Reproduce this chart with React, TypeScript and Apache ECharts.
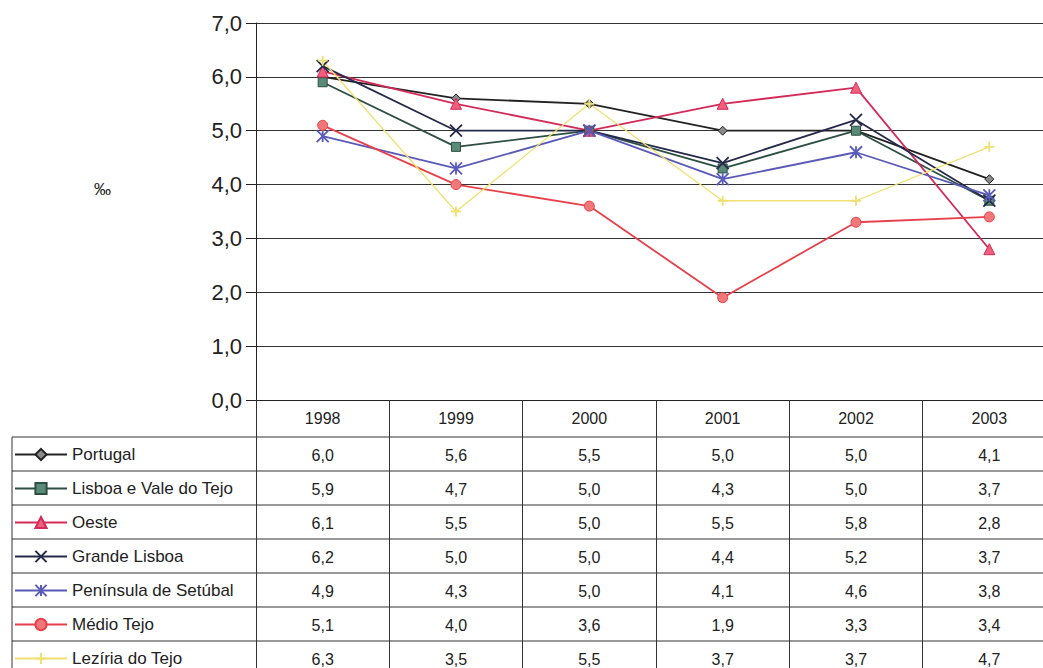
import React, { useEffect, useRef } from "react";
import * as echarts from "echarts";

const years = ["1998", "1999", "2000", "2001", "2002", "2003"];
const seriesNames = [
  "Portugal",
  "Lisboa e Vale do Tejo",
  "Oeste",
  "Grande Lisboa",
  "Península de Setúbal",
  "Médio Tejo",
  "Lezíria do Tejo",
];
const portugal = [6.0, 5.6, 5.5, 5.0, 5.0, 4.1];
const lisboaValeTejo = [5.9, 4.7, 5.0, 4.3, 5.0, 3.7];
const oeste = [6.1, 5.5, 5.0, 5.5, 5.8, 2.8];
const grandeLisboa = [6.2, 5.0, 5.0, 4.4, 5.2, 3.7];
const peninsulaSetubal = [4.9, 4.3, 5.0, 4.1, 4.6, 3.8];
const medioTejo = [5.1, 4.0, 3.6, 1.9, 3.3, 3.4];
const leziriaTejo = [6.3, 3.5, 5.5, 3.7, 3.7, 4.7];
const allValues = [portugal, lisboaValeTejo, oeste, grandeLisboa, peninsulaSetubal, medioTejo, leziriaTejo];

const lineColors = ["#222222", "#2d4f44", "#d42a5a", "#262a4a", "#5a5ab8", "#e8404a", "#f0e070"];
const markerFill = ["#8a8a8a", "#5a8a78", "#f0607a", "#262a4a", "#5a5ab8", "#f07878", "#f0e070"];
const symbols = [
  "diamond",
  "rect",
  "triangle",
  "path://M0,0L10,10M10,0L0,10",
  "path://M0,0L10,10M10,0L0,10M5,0L5,10",
  "circle",
  "path://M5,0L5,10M0,5L10,5",
];
const symbolSizes = [9, 9, 11, 12, 12, 10, 10];

const FONT = "Liberation Sans, Arial, sans-serif";
const fmt = (v: number) => v.toFixed(1).replace(".", ",");

export default function App() {
  const ref = useRef<HTMLDivElement>(null);
  useEffect(() => {
    const chart = echarts.init(ref.current!, null, { renderer: "svg" });
    const gridLeft = 256;
    const gridTop = 23;
    const gridBottomY = 400;
    const headerH = 37;
    const rowH = 34;
    const legendTop = 441;

    const tableAxes = allValues.map((vals, i) => ({
      type: "category",
      gridIndex: 0,
      position: "bottom",
      offset: headerH + rowH * i,
      data: vals.map(fmt),
      axisLine: { show: false },
      axisTick: { show: false },
      axisLabel: { interval: 0, margin: 10, fontSize: 16, color: "#222", fontFamily: FONT },
    }));

    const hLines: any[] = [];
    for (let i = 0; i <= allValues.length; i++) {
      const y = gridBottomY + headerH + rowH * i;
      hLines.push({
        type: "line",
        shape: { x1: 12, y1: y, x2: 1043, y2: y },
        style: { stroke: "#333", lineWidth: 1 },
      });
    }
    hLines.push({
      type: "line",
      shape: { x1: 12, y1: gridBottomY + headerH, x2: 12, y2: 668 },
      style: { stroke: "#333", lineWidth: 1 },
    });

    const legendBase = {
      orient: "vertical",
      left: 9,
      itemGap: 17,
      itemHeight: 14,
      itemWidth: 52,
      textStyle: { fontSize: 17, color: "#222", fontFamily: FONT },
    };

    chart.setOption({
      animation: false,
      backgroundColor: "#fff",
      textStyle: { fontFamily: FONT },
      grid: {
        left: gridLeft,
        top: gridTop,
        width: 800,
        height: gridBottomY - gridTop,
        outerBoundsMode: "none",
        containLabel: false,
      },
      legend: [
        { ...legendBase, data: seriesNames.slice(0, 6), top: legendTop },
        { ...legendBase, data: seriesNames.slice(6), top: legendTop + rowH * 6 },
      ],
      xAxis: [
        {
          type: "category",
          data: years,
          boundaryGap: true,
          axisLine: { show: true, lineStyle: { color: "#222", width: 1 } },
          axisTick: { show: true, interval: 0, length: 275, lineStyle: { color: "#333", width: 1 } },
          axisLabel: { interval: 0, margin: 10, fontSize: 16, color: "#222", fontFamily: FONT },
        },
        ...tableAxes,
      ],
      yAxis: {
        type: "value",
        min: 0,
        max: 7,
        interval: 1,
        axisLine: { show: true, lineStyle: { color: "#222", width: 1 } },
        axisTick: { show: true, length: 10, lineStyle: { color: "#222" } },
        axisLabel: { formatter: (v: number) => fmt(v), fontSize: 22, color: "#222", margin: 14, fontFamily: FONT },
        splitLine: { show: true, lineStyle: { color: "#333", width: 1 } },
      },
      graphic: [
        ...hLines,
        {
          type: "text",
          left: 94,
          top: 181,
          style: { text: "‰", fontSize: 17, fill: "#222", fontFamily: FONT },
        },
      ],
      series: seriesNames.map((name, i) => ({
        name,
        type: "line",
        data: allValues[i],
        xAxisIndex: 0,
        symbol: symbols[i],
        symbolSize: symbolSizes[i],
        showAllSymbol: true,
        lineStyle: { color: lineColors[i], width: i === 6 ? 1.3 : 1.8 },
        itemStyle: {
          color: markerFill[i],
          borderColor: lineColors[i],
          borderWidth: i === 3 || i === 4 || i === 6 ? 1.8 : 1,
        },
      })),
    });
    return () => chart.dispose();
  }, []);
  return <div ref={ref} style={{ position: "fixed", left: 0, top: 0, width: 1043, height: 668 }} />;
}
